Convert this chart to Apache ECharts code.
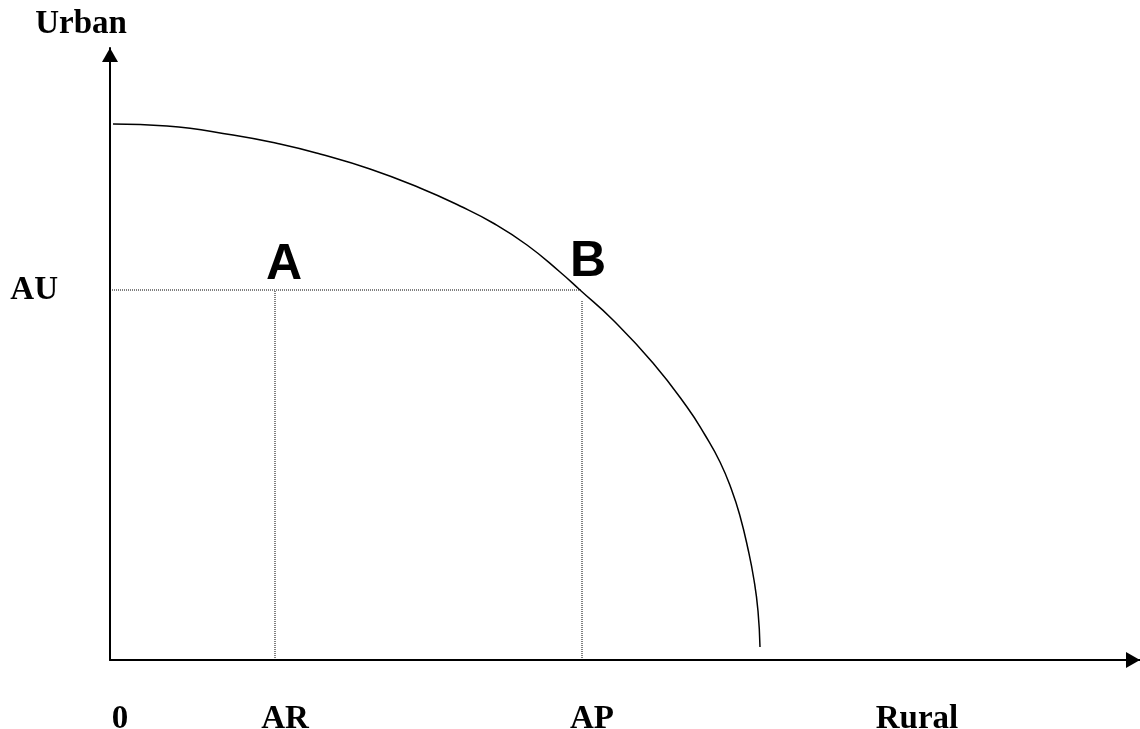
<!DOCTYPE html>
<html>
<head>
<meta charset="utf-8">
<script src="https://cdn.jsdelivr.net/npm/echarts@6/dist/echarts.min.js"></script>
<style>
  html, body { margin: 0; padding: 0; background: #fff; }
  #chart { width: 1140px; height: 729px; }
</style>
</head>
<body>
<div id="chart"></div>
<script>
// production possibility frontier (x = rural, y = urban)
const curveX = [0.3, 5.7, 12.3, 17.0, 21.0, 26.0, 31.0, 35.0, 38.3, 41.7, 45.0, 47.0, 50.3, 54.3, 57.7, 59.5, 61.0, 62.2, 63.0, 63.8, 64.4, 64.8, 65.0];
const curveY = [53.6, 53.4, 52.5, 51.6, 50.6, 49.1, 47.2, 45.4, 43.7, 41.5, 38.8, 37.0, 34.0, 29.7, 25.3, 22.5, 19.8, 16.9, 14.4, 11.1, 8.0, 4.9, 1.3];

const AU = 37.0;
const AR = 16.5;
const AP = 47.2;

const xTickValues = [0, AR, AP, 79.7];
const xTickLabels = ["0", "AR", "AP", "Rural"];
const yTickValues = [AU];
const yTickLabels = ["AU"];

const pointNames = ["A", "B"];
const pointX = [AR, AP];
const pointY = [AU, AU];

const chart = echarts.init(document.getElementById("chart"));

const serif = "Liberation Serif";
const curve = curveX.map((x, i) => [x, curveY[i]]);
const dotted = { color: "#000", width: 1, type: "dotted" };
const labelOffsets = [[9, 5], [6, 2]];

const axisLine = {
  onZero: false,
  symbol: ["none", "triangle"],
  symbolSize: [16, 14],
  symbolOffset: [0, -7],
  lineStyle: { color: "#000", width: 2 },
};

const option = {
  animation: false,
  backgroundColor: "#fff",
  grid: { left: 110, top: 48, width: 1030, height: 612, outerBoundsMode: "none", containLabel: false },
  xAxis: {
    type: "value",
    min: 0,
    max: 103,
    splitLine: { show: false },
    axisTick: { show: false },
    axisLine: axisLine,
    axisLabel: {
      customValues: xTickValues,
      formatter: (v) => xTickLabels[xTickValues.indexOf(v)],
      margin: 43,
      color: "#000",
      fontFamily: serif,
      fontWeight: "bold",
      fontSize: 33,
      padding: [0, 0, 0, 20],
    },
  },
  yAxis: {
    type: "value",
    min: 0,
    max: 61.2,
    name: "Urban",
    nameLocation: "end",
    nameGap: 7,
    nameTextStyle: {
      color: "#000",
      fontFamily: serif,
      fontWeight: "bold",
      fontSize: 33,
      padding: [0, 58, 0, 0],
    },
    splitLine: { show: false },
    axisTick: { show: false },
    axisLine: axisLine,
    axisLabel: {
      customValues: yTickValues,
      formatter: (v) => yTickLabels[yTickValues.indexOf(v)],
      margin: 52,
      color: "#000",
      fontFamily: serif,
      fontWeight: "bold",
      fontSize: 33,
      padding: [32, 0, 0, 0],
    },
  },
  series: [
    {
      type: "line",
      data: curve,
      smooth: 0.5,
      symbol: "none",
      lineStyle: { color: "#000", width: 1.5 },
    },
    {
      type: "line",
      data: [[0, AU], [AP, AU]],
      symbol: "none",
      lineStyle: dotted,
    },
    {
      type: "line",
      data: [[AR, 0], [AR, AU]],
      symbol: "none",
      lineStyle: dotted,
    },
    {
      type: "line",
      data: [[AP, 0], [AP, AU - 1]],
      symbol: "none",
      lineStyle: dotted,
    },
    {
      type: "scatter",
      symbolSize: 0,
      itemStyle: { color: "#000", opacity: 1 },
      data: pointNames.map((n, i) => ({
        name: n,
        value: [pointX[i], pointY[i]],
        label: { offset: labelOffsets[i] },
      })),
      label: {
        show: true,
        position: "top",
        formatter: "{b}",
        color: "#000",
        fontFamily: "Liberation Sans",
        fontWeight: "bold",
        fontSize: 50,
      },
    },
  ],
};

chart.setOption(option);
</script>
</body>
</html>
